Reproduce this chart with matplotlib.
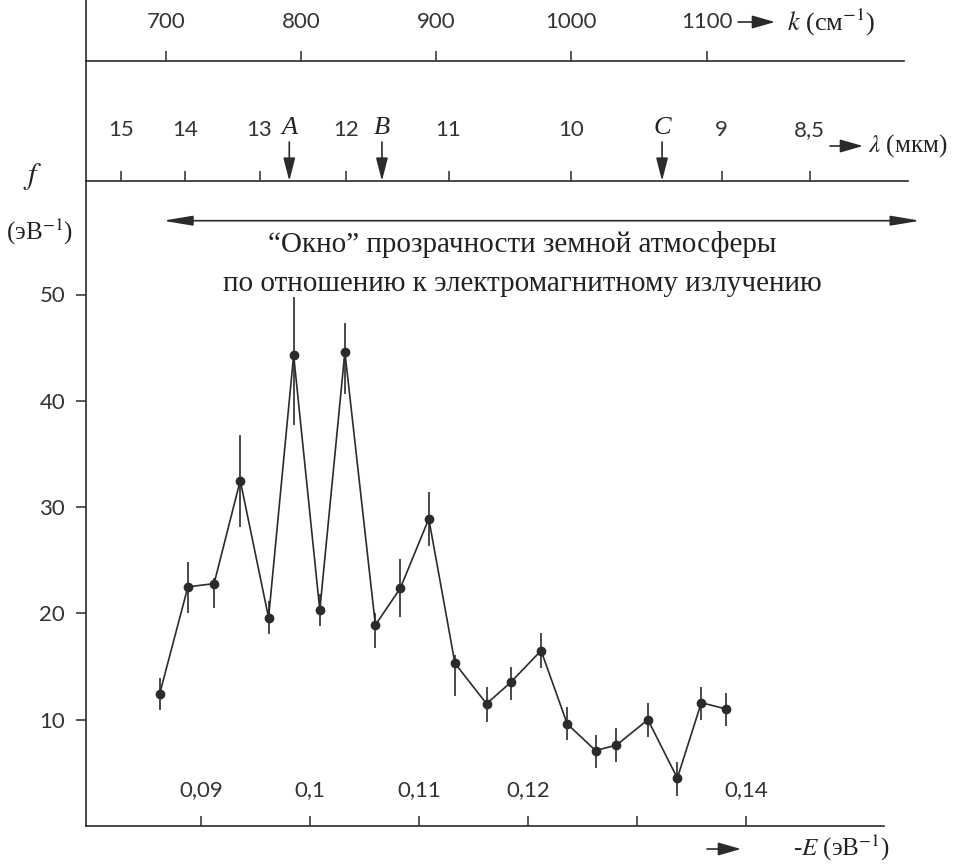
import matplotlib
matplotlib.use('Agg')
import matplotlib.pyplot as plt

# -E (eV) of each point and f (1/eV)
energy = [0.0862, 0.0888, 0.0912, 0.0936, 0.0962, 0.0985, 0.1009, 0.1032,
          0.1060, 0.1083, 0.1109, 0.1133, 0.1162, 0.1184, 0.1212, 0.1236,
          0.1262, 0.1281, 0.1310, 0.1337, 0.1359, 0.1382]
f_vals = [12.4, 22.5, 22.8, 32.5, 19.6, 44.3, 20.3, 44.6, 18.9, 22.4, 28.9,
          15.3, 11.5, 13.5, 16.5, 9.6, 7.1, 7.6, 10.0, 4.5, 11.6, 11.0]
err_low = [1.5, 2.45, 2.3, 4.4, 1.5, 6.6, 1.5, 4.0, 2.2, 2.7, 2.6,
           3.1, 1.7, 1.6, 1.6, 1.5, 1.6, 1.6, 1.6, 1.7, 1.6, 1.6]
err_high = [1.5, 2.35, 0.5, 4.3, 1.6, 5.5, 1.5, 2.7, 1.1, 2.7, 2.5,
            0.8, 1.6, 1.5, 1.7, 1.6, 1.5, 1.6, 1.6, 1.5, 1.5, 1.5]

e_ticks = [0.09, 0.10, 0.11, 0.12, 0.13, 0.14]
e_labels = ['0,09', '0,1', '0,11', '0,12', '', '0,14']
f_ticks = [10, 20, 30, 40, 50]
k_ticks = [700, 800, 900, 1000, 1100]            # cm^-1
lam_ticks = [15, 14, 13, 12, 11, 10, 9, 8.5]     # um
lam_labels = ['15', '14', '13', '12', '11', '10', '9', '8,5']
marks = {'A': 0.0981, 'B': 0.1066, 'C': 0.1323}  # -E, eV
window = (0.0865, 0.1560)                        # transparency window, eV

HC = 1.2398  # eV * um

W, H = 964, 866
PX_PER_E = 10900.0
E_LEFT = 0.07945
PX_PER_F = 10.63
INK = '#2b2b2b'


def fx(x):
    return x / W


def fy(y):
    return 1 - y / H


def rect(x0, x1, ytop, ybot):
    return [x0 / W, 1 - ybot / H, (x1 - x0) / W, (ybot - ytop) / H]


def strip_axes(fig, r, x1):
    a = fig.add_axes(r)
    a.patch.set_alpha(0)
    a.set_xlim(E_LEFT, E_LEFT + (x1 - 86) / PX_PER_E)
    a.set_ylim(0, 1)
    for s in ('top', 'right'):
        a.spines[s].set_visible(False)
    for s in ('left', 'bottom'):
        a.spines[s].set_color(INK)
        a.spines[s].set_linewidth(1.2)
    a.tick_params(left=False, labelleft=False)
    return a


def style_labels(labels):
    for t in labels:
        t.set_fontfamily(['Lato', 'DejaVu Sans'])
        t.set_fontweight('normal')
        t.set_color('#333333')


def small_arrow(fig, x0, x1, y):
    fig.add_artist(matplotlib.patches.FancyArrowPatch(
        (fx(x0), fy(y)), (fx(x1), fy(y)), transform=fig.transFigure,
        arrowstyle='-|>,head_length=0.7,head_width=0.2', mutation_scale=20,
        color=INK, lw=1.2, shrinkA=0, shrinkB=0))


def generate_chart():
    plt.rcParams['font.family'] = ['Liberation Serif', 'DejaVu Serif']
    plt.rcParams['mathtext.fontset'] = 'stix'

    fig = plt.figure(figsize=(W / 100, H / 100), dpi=100)

    # main panel
    ax = fig.add_axes(rect(86, 884, 181, 826))
    ax.patch.set_alpha(0)
    ax.set_xlim(E_LEFT, E_LEFT + (884 - 86) / PX_PER_E)
    ax.set_ylim(0, (826 - 181) / PX_PER_F)
    for s in ('top', 'right'):
        ax.spines[s].set_visible(False)
    for s in ('left', 'bottom'):
        ax.spines[s].set_color(INK)
        ax.spines[s].set_linewidth(1.2)

    ax.errorbar(energy, f_vals, yerr=[err_low, err_high], fmt='o-',
                color=INK, ms=6, lw=1.2, elinewidth=1.2, capsize=0)

    ax.set_yticks(f_ticks)
    ax.tick_params(axis='y', direction='out', length=7, width=1.1,
                   color=INK, pad=8, labelsize=16)
    ax.set_xticks(e_ticks, e_labels)
    ax.tick_params(axis='x', direction='in', length=7, width=1.1,
                   color=INK, pad=-33, labelsize=16)
    style_labels(ax.get_xticklabels() + ax.get_yticklabels())

    # transparency window arrow and caption
    y_win = (826.3 - 221) / PX_PER_F
    ax.annotate('', xy=(window[0], y_win), xytext=(window[1], y_win),
                arrowprops=dict(arrowstyle='<|-|>,head_length=0.9,head_width=0.15',
                                mutation_scale=20, color=INK, lw=1.2,
                                shrinkA=0, shrinkB=0),
                annotation_clip=False)
    fig.text(fx(522), fy(245), '\u201cОкно\u201d прозрачности земной атмосферы',
             ha='center', va='center', fontsize=21, color='#222')
    fig.text(fx(522), fy(284), 'по отношению к электромагнитному излучению',
             ha='center', va='center', fontsize=21, color='#222')

    # wavelength strip
    ax_l = strip_axes(fig, rect(86, 908, 61, 181), 908)
    ax_l.set_xticks([HC / v for v in lam_ticks], lam_labels)
    ax_l.tick_params(axis='x', direction='in', length=7, width=1.1,
                     color=INK, pad=-44, labelsize=16)
    style_labels(ax_l.get_xticklabels())
    for name, e in marks.items():
        ax_l.annotate('', xy=(e, 0), xycoords='data',
                      xytext=(e, fy(142)), textcoords=('data', 'figure fraction'),
                      arrowprops=dict(arrowstyle='-|>,head_length=0.7,head_width=0.18',
                                      mutation_scale=20, color=INK, lw=1.2,
                                      shrinkA=0, shrinkB=0))
        ax_l.annotate(name, xy=(e, fy(128)), xycoords=('data', 'figure fraction'),
                      ha='center', va='center', fontsize=19, style='italic',
                      color='#222')

    # wavenumber strip
    ax_k = strip_axes(fig, rect(86, 904, -5, 61), 904)
    ax_k.set_xticks([k * HC * 1e-4 for k in k_ticks], [str(k) for k in k_ticks])
    ax_k.tick_params(axis='x', direction='in', length=7, width=1.1,
                     color=INK, pad=-35, labelsize=16)
    style_labels(ax_k.get_xticklabels())

    # axis names
    small_arrow(fig, 738, 775, 22)
    fig.text(fx(787), fy(22), '$k$ (см$^{-1}$)', ha='left', va='center',
             fontsize=19, color='#222')
    small_arrow(fig, 830, 863, 146)
    fig.text(fx(868), fy(146), '$\\lambda$ (мкм)', ha='left', va='center',
             fontsize=18, color='#222')
    small_arrow(fig, 707, 741, 849)
    fig.text(fx(793), fy(848), '-$E$ (эВ$^{-1}$)', ha='left', va='center',
             fontsize=18, color='#222')
    fig.text(fx(33), fy(177), '$f$', ha='center', va='center',
             fontsize=22, color='#222')
    fig.text(fx(40), fy(232), '(эВ$^{-1}$)', ha='center', va='center',
             fontsize=18, color='#222')

    fig.savefig('out.png', dpi=100)
    plt.close(fig)


def main():
    generate_chart()


if __name__ == '__main__':
    main()
